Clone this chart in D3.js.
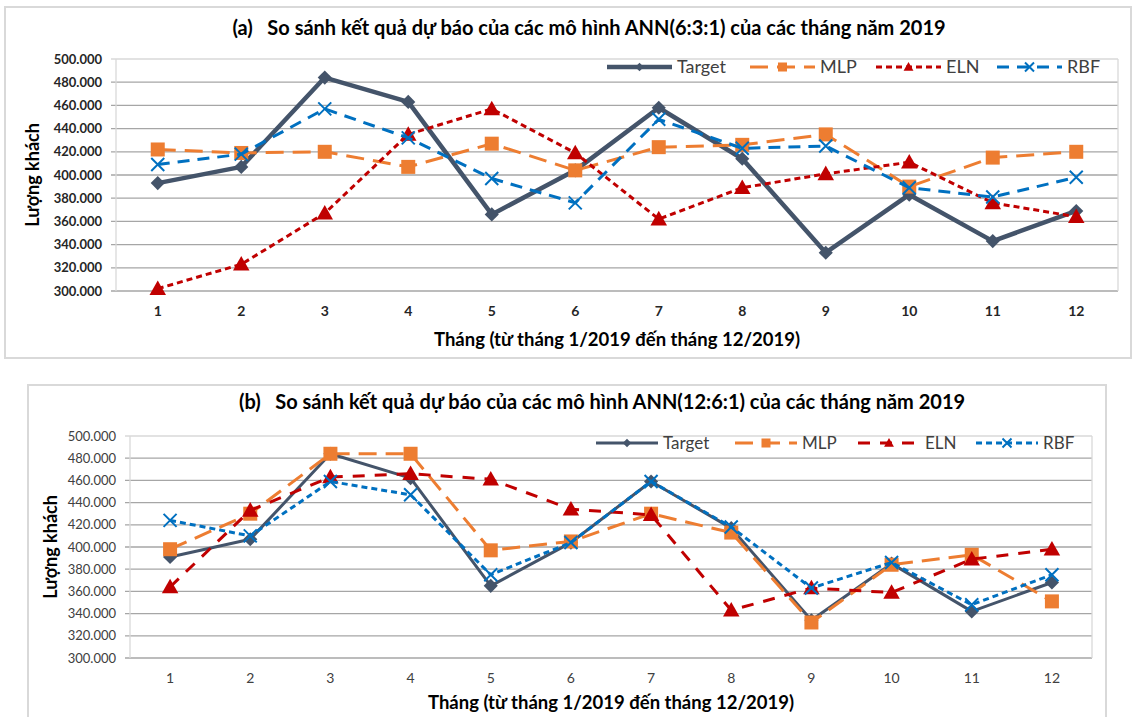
<!DOCTYPE html>
<html>
<head>
<meta charset="utf-8">
<script src="https://cdn.jsdelivr.net/npm/d3@7"></script>
<style>
  body { margin: 0; background: #fff; }
  text { font-family: Lato, "Open Sans", sans-serif; }
</style>
</head>
<body>
<div id="grafico"></div>
<script>
// Dados
const thang = [1, 2, 3, 4, 5, 6, 7, 8, 9, 10, 11, 12];
const yTicks = [300000, 320000, 340000, 360000, 380000, 400000, 420000, 440000, 460000, 480000, 500000];
const tenSeries = ["Target", "MLP", "ELN", "RBF"];

// (a) ANN(6:3:1)
const targetA = [393000, 407000, 484000, 463000, 366000, 404000, 458000, 414000, 333000, 383000, 343000, 369000];
const mlpA    = [422000, 419000, 420000, 407000, 427000, 404000, 424000, 426000, 435000, 390000, 415000, 420000];
const elnA    = [302000, 323000, 367000, 435000, 457000, 419000, 362000, 389000, 401000, 411000, 376000, 364000];
const rbfA    = [409000, 418000, 457000, 432000, 397000, 376000, 448000, 423000, 425000, 389000, 381000, 398000];

// (b) ANN(12:6:1)
const targetB = [391000, 407000, 484000, 462000, 365000, 404000, 459000, 417000, 334000, 385000, 342000, 368000];
const mlpB    = [398000, 430000, 484000, 484000, 397000, 405000, 430000, 413000, 332000, 384000, 393000, 351000];
const elnB    = [364000, 433000, 463000, 466000, 461000, 434000, 429000, 343000, 363000, 359000, 389000, 398000];
const rbfB    = [424000, 410000, 459000, 447000, 375000, 404000, 459000, 418000, 363000, 386000, 348000, 375000];

const W = 1137, H = 717;
const fmt = d3.formatLocale({ decimal: ",", thousands: ".", grouping: [3], currency: ["", ""] }).format(",d");

const cores = { Target: "#44546A", MLP: "#ED7D31", ELN: "#C00000", RBF: "#0070C0" };

const svg = d3.select("#grafico").append("svg")
  .attr("width", W).attr("height", H);

svg.append("rect").attr("width", W).attr("height", H).attr("fill", "#fff");

// desenha um marcador no ponto
function marcador(g, tipo, x, y, s, cor) {
  if (tipo === "diamond") {
    g.append("rect")
      .attr("x", -s / 2).attr("y", -s / 2).attr("width", s).attr("height", s)
      .attr("fill", cor)
      .attr("transform", `translate(${x},${y}) rotate(45)`);
  } else if (tipo === "square") {
    g.append("rect")
      .attr("x", x - s / 2).attr("y", y - s / 2).attr("width", s).attr("height", s)
      .attr("fill", cor);
  } else if (tipo === "triangle") {
    g.append("path")
      .attr("d", `M${x},${y - s * 0.55}L${x + s * 0.55},${y + s * 0.42}L${x - s * 0.55},${y + s * 0.42}Z`)
      .attr("fill", cor);
  } else if (tipo === "x") {
    const r = s / 2;
    g.append("path")
      .attr("d", `M${x - r},${y - r}L${x + r},${y + r}M${x - r},${y + r}L${x + r},${y - r}`)
      .attr("stroke", cor).attr("stroke-width", 2).attr("fill", "none");
  }
}

function desenharGrafico(cfg) {
  const g = svg.append("g");

  // moldura
  g.append("rect")
    .attr("x", cfg.frame[0]).attr("y", cfg.frame[1])
    .attr("width", cfg.frame[2]).attr("height", cfg.frame[3])
    .attr("fill", "#fff").attr("stroke", "#D9D9D9").attr("stroke-width", 2);

  const x = d3.scalePoint().domain(thang).range([cfg.left, cfg.right]).padding(0.5);
  const y = d3.scaleLinear().domain([300000, 500000]).range([cfg.bottom, cfg.top]);

  // linhas de grade
  g.append("g").selectAll("line").data(yTicks).join("line")
    .attr("x1", cfg.left - 5).attr("x2", cfg.right)
    .attr("y1", d => y(d)).attr("y2", d => y(d))
    .attr("stroke", d => d === 500000 ? "#D9D9D9" : "#A6A6A6")
    .attr("stroke-width", 1.3);

  g.append("line")
    .attr("x1", cfg.left).attr("x2", cfg.left).attr("y1", cfg.top).attr("y2", cfg.bottom)
    .attr("stroke", "#D9D9D9").attr("stroke-width", 1.3);
  g.append("line")
    .attr("x1", cfg.right).attr("x2", cfg.right).attr("y1", cfg.top).attr("y2", cfg.bottom)
    .attr("stroke", "#D9D9D9").attr("stroke-width", 1.3);

  // eixo Y
  g.append("g").selectAll("text").data(yTicks).join("text")
    .attr("x", cfg.left - 14).attr("y", d => y(d))
    .attr("dy", "0.35em").attr("text-anchor", "end")
    .attr("font-size", 13).attr("font-weight", cfg.tickBold ? "bold" : "normal")
    .attr("fill", cfg.tickBold ? "#262626" : "#404040")
    .text(d => fmt(d));

  // eixo X
  g.append("g").selectAll("text").data(thang).join("text")
    .attr("x", d => x(d)).attr("y", cfg.bottom + 20)
    .attr("dy", "0.35em").attr("text-anchor", "middle")
    .attr("font-size", 14).attr("font-weight", cfg.tickBold ? "bold" : "normal")
    .attr("fill", cfg.tickBold ? "#262626" : "#404040")
    .text(d => d);

  // títulos
  g.append("text")
    .attr("x", cfg.titleX).attr("y", cfg.titleY).attr("dy", "0.35em")
    .attr("text-anchor", "middle").attr("font-size", 20).attr("font-weight", "bold")
    .attr("fill", "#000")
    .attr("xml:space", "preserve")
    .text(cfg.title);

  g.append("text")
    .attr("x", (cfg.left + cfg.right) / 2).attr("y", cfg.xTitleY).attr("dy", "0.35em")
    .attr("text-anchor", "middle").attr("font-size", 18.5).attr("font-weight", "bold")
    .attr("fill", "#000")
    .text("Tháng (từ tháng 1/2019 đến tháng 12/2019)");

  g.append("text")
    .attr("transform", `translate(${cfg.yTitleX},${(cfg.top + cfg.bottom) / 2}) rotate(-90)`)
    .attr("dy", "0.35em")
    .attr("text-anchor", "middle").attr("font-size", 18).attr("font-weight", "bold")
    .attr("fill", "#000")
    .text("Lượng khách");

  // linhas das séries
  const line = d3.line().x((d, i) => x(thang[i])).y(d => y(d));

  cfg.series.forEach(s => {
    g.append("path")
      .datum(s.values)
      .attr("fill", "none")
      .attr("stroke", cores[s.nome])
      .attr("stroke-width", s.width)
      .attr("stroke-dasharray", s.dash)
      .attr("stroke-linejoin", "round")
      .attr("d", line);
    const gm = g.append("g");
    s.values.forEach((v, i) => marcador(gm, s.marker, x(thang[i]), y(v), s.size, cores[s.nome]));
  });

  // legenda
  cfg.series.forEach((s, i) => {
    const lx = cfg.legendX[i];
    const ly = cfg.legendY;
    g.append("line")
      .attr("x1", lx).attr("x2", lx + cfg.legendLen).attr("y1", ly).attr("y2", ly)
      .attr("stroke", cores[s.nome]).attr("stroke-width", s.width)
      .attr("stroke-dasharray", s.dash);
    marcador(g, s.marker, lx + cfg.legendLen / 2, ly, s.legendSize, cores[s.nome]);
    g.append("text")
      .attr("x", lx + cfg.legendLen + 5).attr("y", ly).attr("dy", "0.35em")
      .attr("font-size", cfg.legendFont).attr("fill", "#404040")
      .text(s.nome);
  });
}

// 🔹 Gráfico (a)
desenharGrafico({
  frame: [5, 7, 1126, 351],
  left: 116, right: 1118, top: 59, bottom: 291,
  tickBold: true,
  title: "(a)   So sánh kết quả dự báo của các mô hình ANN(6:3:1) của các tháng năm 2019",
  titleX: 589, titleY: 28,
  xTitleY: 340, yTitleX: 33,
  legendX: [607, 750, 876, 997], legendY: 67, legendLen: 65, legendFont: 18,
  series: [
    { nome: "Target", values: targetA, width: 4.5, dash: null, marker: "diamond", size: 10, legendSize: 6 },
    { nome: "MLP", values: mlpA, width: 3, dash: "18,9", marker: "square", size: 14, legendSize: 9 },
    { nome: "ELN", values: elnA, width: 3, dash: "6,4", marker: "triangle", size: 15, legendSize: 9 },
    { nome: "RBF", values: rbfA, width: 3, dash: "12,8", marker: "x", size: 13, legendSize: 9 }
  ]
});

// 🔹 Gráfico (b)
desenharGrafico({
  frame: [28, 385, 1078, 345],
  left: 130, right: 1092, top: 436, bottom: 658,
  tickBold: false,
  title: "(b)   So sánh kết quả dự báo của các mô hình ANN(12:6:1) của các tháng năm 2019",
  titleX: 602, titleY: 402,
  xTitleY: 703, yTitleX: 51,
  legendX: [596, 735, 858, 976], legendY: 443, legendLen: 62, legendFont: 17,
  series: [
    { nome: "Target", values: targetB, width: 3, dash: null, marker: "diamond", size: 10, legendSize: 6 },
    { nome: "MLP", values: mlpB, width: 3, dash: "18,9", marker: "square", size: 14, legendSize: 9 },
    { nome: "ELN", values: elnB, width: 3, dash: "12,10", marker: "triangle", size: 15, legendSize: 9 },
    { nome: "RBF", values: rbfB, width: 3, dash: "6,4", marker: "x", size: 13, legendSize: 9 }
  ]
});
</script>
</body>
</html>
